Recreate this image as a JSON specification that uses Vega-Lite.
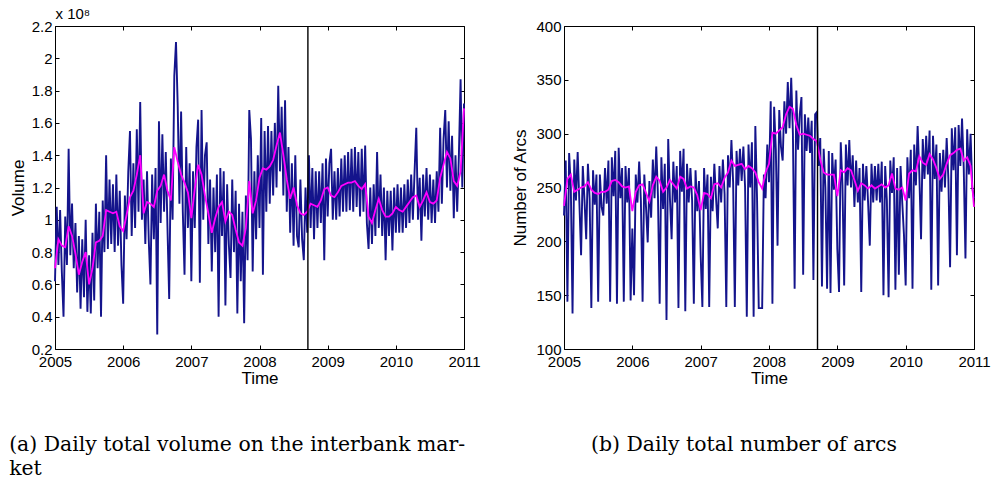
{
"$schema":"https://vega.github.io/schema/vega-lite/v6.json",
"background":"white",
"padding":{"left":8,"top":6,"right":4,"bottom":0},
"config":{
 "view":{"stroke":"black","strokeWidth":1},
 "axis":{"grid":false,"domain":false,"tickColor":"black","tickSize":-4,"tickWidth":1,"labelPadding":7,"labelFlush":false,"labelOverlap":false,"labelFont":"Liberation Sans","labelFontSize":15,"labelColor":"black","titleFont":"Liberation Sans","titleFontSize":17,"titleFontWeight":"normal","titleColor":"black"},
 "title":{"font":"DejaVu Serif","fontSize":20.4,"fontWeight":"normal","color":"black","lineHeight":24}
},
"datasets":{
"daily":[
{"t":2005,"a":0.62,"b":224},{"t":2005.025,"a":1.08,"b":275},{"t":2005.05,"a":0.72,"b":144},{"t":2005.075,"a":1.06,"b":282},{"t":2005.1,"a":0.68,"b":250},{"t":2005.125,"a":0.40,"b":133},{"t":2005.15,"a":1.02,"b":276},{"t":2005.175,"a":0.72,"b":238},{"t":2005.2,"a":1.44,"b":283},{"t":2005.225,"a":0.78,"b":236},
{"t":2005.25,"a":1.10,"b":187},{"t":2005.275,"a":0.70,"b":270},{"t":2005.3,"a":0.98,"b":238},{"t":2005.325,"a":0.55,"b":202},{"t":2005.35,"a":0.90,"b":272},{"t":2005.375,"a":0.45,"b":240},{"t":2005.4,"a":0.88,"b":138},{"t":2005.425,"a":0.52,"b":266},{"t":2005.45,"a":1.00,"b":234},{"t":2005.475,"a":0.43,"b":262},
{"t":2005.5,"a":0.78,"b":144},{"t":2005.525,"a":0.42,"b":262},{"t":2005.55,"a":0.92,"b":232},{"t":2005.575,"a":0.50,"b":224},{"t":2005.6,"a":1.10,"b":268},{"t":2005.625,"a":0.70,"b":235},{"t":2005.65,"a":1.05,"b":275},{"t":2005.675,"a":0.40,"b":144},{"t":2005.7,"a":1.12,"b":278},{"t":2005.725,"a":0.80,"b":242},
{"t":2005.75,"a":1.40,"b":284},{"t":2005.775,"a":0.82,"b":142},{"t":2005.8,"a":1.25,"b":287},{"t":2005.825,"a":0.85,"b":240},{"t":2005.85,"a":1.22,"b":268},{"t":2005.875,"a":0.80,"b":144},{"t":2005.9,"a":1.28,"b":270},{"t":2005.925,"a":0.84,"b":236},{"t":2005.95,"a":1.18,"b":268},{"t":2005.975,"a":0.72,"b":145},
{"t":2006,"a":0.48,"b":212},{"t":2006.025,"a":1.15,"b":150},{"t":2006.05,"a":0.88,"b":262},{"t":2006.075,"a":1.30,"b":236},{"t":2006.1,"a":1.55,"b":274},{"t":2006.125,"a":0.90,"b":238},{"t":2006.15,"a":1.35,"b":144},{"t":2006.175,"a":0.95,"b":262},{"t":2006.2,"a":1.56,"b":232},{"t":2006.225,"a":1.05,"b":199},
{"t":2006.25,"a":1.73,"b":256},{"t":2006.275,"a":1.00,"b":222},{"t":2006.3,"a":1.25,"b":276},{"t":2006.325,"a":0.85,"b":240},{"t":2006.35,"a":1.30,"b":288},{"t":2006.375,"a":0.88,"b":242},{"t":2006.4,"a":0.60,"b":142},{"t":2006.425,"a":1.28,"b":278},{"t":2006.45,"a":0.88,"b":230},{"t":2006.475,"a":1.32,"b":272},
{"t":2006.5,"a":0.29,"b":127},{"t":2006.525,"a":1.61,"b":295},{"t":2006.55,"a":0.98,"b":240},{"t":2006.575,"a":1.53,"b":202},{"t":2006.6,"a":1.05,"b":274},{"t":2006.625,"a":1.42,"b":236},{"t":2006.65,"a":0.95,"b":270},{"t":2006.675,"a":0.51,"b":138},{"t":2006.7,"a":1.38,"b":284},{"t":2006.725,"a":1.00,"b":246},
{"t":2006.75,"a":1.89,"b":286},{"t":2006.775,"a":2.10,"b":135},{"t":2006.8,"a":1.71,"b":272},{"t":2006.825,"a":1.10,"b":236},{"t":2006.85,"a":1.67,"b":268},{"t":2006.875,"a":1.05,"b":238},{"t":2006.9,"a":0.66,"b":142},{"t":2006.925,"a":1.45,"b":266},{"t":2006.95,"a":0.95,"b":228},{"t":2006.975,"a":1.35,"b":256},
{"t":2007,"a":0.62,"b":187},{"t":2007.025,"a":1.30,"b":139},{"t":2007.05,"a":0.95,"b":268},{"t":2007.075,"a":1.45,"b":230},{"t":2007.1,"a":1.62,"b":262},{"t":2007.125,"a":0.61,"b":139},{"t":2007.15,"a":1.68,"b":260},{"t":2007.175,"a":1.00,"b":228},{"t":2007.2,"a":1.40,"b":272},{"t":2007.225,"a":1.48,"b":240},
{"t":2007.25,"a":0.85,"b":212},{"t":2007.275,"a":1.25,"b":270},{"t":2007.3,"a":0.68,"b":236},{"t":2007.325,"a":1.20,"b":276},{"t":2007.35,"a":0.80,"b":244},{"t":2007.375,"a":1.28,"b":139},{"t":2007.4,"a":0.40,"b":280},{"t":2007.425,"a":1.32,"b":250},{"t":2007.45,"a":0.90,"b":294},{"t":2007.475,"a":1.30,"b":255},
{"t":2007.5,"a":0.47,"b":139},{"t":2007.525,"a":1.22,"b":284},{"t":2007.55,"a":0.85,"b":252},{"t":2007.575,"a":0.64,"b":286},{"t":2007.6,"a":1.25,"b":256},{"t":2007.625,"a":0.80,"b":288},{"t":2007.65,"a":1.18,"b":250},{"t":2007.675,"a":0.42,"b":130},{"t":2007.7,"a":1.10,"b":290},{"t":2007.725,"a":0.62,"b":250},
{"t":2007.75,"a":1.05,"b":292},{"t":2007.775,"a":0.36,"b":130},{"t":2007.8,"a":1.15,"b":307},{"t":2007.825,"a":0.75,"b":240},{"t":2007.85,"a":1.68,"b":138},{"t":2007.875,"a":1.50,"b":138},{"t":2007.9,"a":0.68,"b":138},{"t":2007.925,"a":1.30,"b":262},{"t":2007.95,"a":0.88,"b":240},{"t":2007.975,"a":1.40,"b":290},
{"t":2008,"a":0.95,"b":255},{"t":2008.025,"a":1.63,"b":330},{"t":2008.05,"a":0.66,"b":142},{"t":2008.075,"a":1.55,"b":325},{"t":2008.1,"a":1.05,"b":285},{"t":2008.125,"a":1.58,"b":196},{"t":2008.15,"a":1.10,"b":322},{"t":2008.175,"a":1.55,"b":288},{"t":2008.2,"a":1.15,"b":275},{"t":2008.225,"a":1.60,"b":330},
{"t":2008.25,"a":1.20,"b":300},{"t":2008.275,"a":1.83,"b":348},{"t":2008.3,"a":1.30,"b":305},{"t":2008.325,"a":1.70,"b":352},{"t":2008.35,"a":1.15,"b":300},{"t":2008.375,"a":1.74,"b":156},{"t":2008.4,"a":1.05,"b":340},{"t":2008.425,"a":1.45,"b":285},{"t":2008.45,"a":0.92,"b":318},{"t":2008.475,"a":1.35,"b":334},
{"t":2008.5,"a":0.84,"b":169},{"t":2008.525,"a":1.40,"b":318},{"t":2008.55,"a":0.90,"b":284},{"t":2008.575,"a":0.83,"b":315},{"t":2008.6,"a":1.25,"b":282},{"t":2008.625,"a":0.88,"b":312},{"t":2008.65,"a":0.75,"b":164},{"t":2008.675,"a":1.20,"b":318},{"t":2008.7,"a":0.92,"b":320},{"t":2008.725,"a":1.40,"b":270},
{"t":2008.75,"a":0.95,"b":296},{"t":2008.775,"a":1.32,"b":158},{"t":2008.8,"a":0.88,"b":286},{"t":2008.825,"a":1.30,"b":250},{"t":2008.85,"a":0.95,"b":156},{"t":2008.875,"a":1.30,"b":284},{"t":2008.9,"a":0.98,"b":152},{"t":2008.925,"a":1.35,"b":282},{"t":2008.95,"a":0.75,"b":248},{"t":2008.975,"a":1.38,"b":276},
{"t":2009,"a":1.02,"b":193},{"t":2009.025,"a":1.35,"b":153},{"t":2009.05,"a":1.44,"b":292},{"t":2009.075,"a":1.00,"b":252},{"t":2009.1,"a":1.30,"b":159},{"t":2009.125,"a":1.00,"b":290},{"t":2009.15,"a":1.32,"b":252},{"t":2009.175,"a":1.02,"b":294},{"t":2009.2,"a":1.38,"b":250},{"t":2009.225,"a":1.05,"b":280},
{"t":2009.25,"a":1.40,"b":232},{"t":2009.275,"a":1.05,"b":275},{"t":2009.3,"a":1.42,"b":236},{"t":2009.325,"a":1.06,"b":268},{"t":2009.35,"a":1.44,"b":153},{"t":2009.375,"a":1.05,"b":272},{"t":2009.4,"a":1.45,"b":238},{"t":2009.425,"a":1.08,"b":270},{"t":2009.45,"a":1.42,"b":236},{"t":2009.475,"a":1.02,"b":196},
{"t":2009.5,"a":1.44,"b":272},{"t":2009.525,"a":1.05,"b":236},{"t":2009.55,"a":1.46,"b":270},{"t":2009.575,"a":0.98,"b":238},{"t":2009.6,"a":0.82,"b":272},{"t":2009.625,"a":1.20,"b":236},{"t":2009.65,"a":0.85,"b":274},{"t":2009.675,"a":1.22,"b":150},{"t":2009.7,"a":0.90,"b":270},{"t":2009.725,"a":1.42,"b":238},
{"t":2009.75,"a":0.95,"b":148},{"t":2009.775,"a":1.28,"b":275},{"t":2009.8,"a":0.90,"b":245},{"t":2009.825,"a":1.20,"b":278},{"t":2009.85,"a":0.75,"b":155},{"t":2009.875,"a":1.18,"b":268},{"t":2009.9,"a":0.90,"b":169},{"t":2009.925,"a":1.18,"b":270},{"t":2009.95,"a":0.81,"b":236},{"t":2009.975,"a":1.20,"b":206},
{"t":2010,"a":0.92,"b":159},{"t":2010.025,"a":1.22,"b":278},{"t":2010.05,"a":0.92,"b":240},{"t":2010.075,"a":1.20,"b":285},{"t":2010.1,"a":0.92,"b":156},{"t":2010.125,"a":1.22,"b":290},{"t":2010.15,"a":0.95,"b":252},{"t":2010.175,"a":1.25,"b":307},{"t":2010.2,"a":0.98,"b":262},{"t":2010.225,"a":1.28,"b":202},
{"t":2010.25,"a":1.00,"b":295},{"t":2010.275,"a":1.30,"b":258},{"t":2010.3,"a":1.57,"b":298},{"t":2010.325,"a":1.00,"b":262},{"t":2010.35,"a":1.26,"b":303},{"t":2010.375,"a":0.87,"b":155},{"t":2010.4,"a":1.28,"b":298},{"t":2010.425,"a":1.02,"b":258},{"t":2010.45,"a":1.32,"b":290},{"t":2010.475,"a":1.00,"b":159},
{"t":2010.5,"a":1.28,"b":282},{"t":2010.525,"a":0.98,"b":246},{"t":2010.55,"a":1.25,"b":285},{"t":2010.575,"a":0.98,"b":250},{"t":2010.6,"a":1.30,"b":296},{"t":2010.625,"a":1.05,"b":258},{"t":2010.65,"a":1.57,"b":176},{"t":2010.675,"a":1.10,"b":305},{"t":2010.7,"a":1.50,"b":266},{"t":2010.725,"a":1.68,"b":306},
{"t":2010.75,"a":1.20,"b":187},{"t":2010.775,"a":1.61,"b":308},{"t":2010.8,"a":1.18,"b":270},{"t":2010.825,"a":1.52,"b":314},{"t":2010.85,"a":1.01,"b":268},{"t":2010.875,"a":1.40,"b":184},{"t":2010.9,"a":1.05,"b":304},{"t":2010.925,"a":1.40,"b":262},{"t":2010.95,"a":1.87,"b":300},{"t":2010.975,"a":1.20,"b":250},
{"t":2011,"a":1.72,"b":240}
],
"ma":[
{"t":2005,"a":0.70,"b":233},{"t":2005.05,"a":0.88,"b":258},{"t":2005.1,"a":0.84,"b":262},{"t":2005.15,"a":0.83,"b":246},{"t":2005.2,"a":0.96,"b":248},{"t":2005.25,"a":0.90,"b":250},{"t":2005.3,"a":0.79,"b":251},{"t":2005.35,"a":0.66,"b":255},{"t":2005.4,"a":0.74,"b":248},{"t":2005.45,"a":0.80,"b":245},
{"t":2005.5,"a":0.60,"b":244},{"t":2005.55,"a":0.70,"b":246},{"t":2005.6,"a":0.86,"b":246},{"t":2005.65,"a":0.87,"b":248},{"t":2005.7,"a":0.90,"b":256},{"t":2005.75,"a":1.06,"b":257},{"t":2005.8,"a":1.05,"b":255},{"t":2005.85,"a":1.04,"b":251},{"t":2005.9,"a":1.05,"b":250},{"t":2005.95,"a":0.96,"b":251},
{"t":2006,"a":0.93,"b":228},{"t":2006.05,"a":1.03,"b":246},{"t":2006.1,"a":1.14,"b":252},{"t":2006.15,"a":1.18,"b":253},{"t":2006.2,"a":1.28,"b":245},{"t":2006.25,"a":1.40,"b":237},{"t":2006.3,"a":1.04,"b":252},{"t":2006.35,"a":1.11,"b":260},{"t":2006.4,"a":1.10,"b":256},{"t":2006.45,"a":1.08,"b":246},
{"t":2006.5,"a":1.18,"b":250},{"t":2006.55,"a":1.21,"b":257},{"t":2006.6,"a":1.28,"b":253},{"t":2006.65,"a":1.18,"b":249},{"t":2006.7,"a":1.12,"b":260},{"t":2006.75,"a":1.45,"b":258},{"t":2006.8,"a":1.36,"b":249},{"t":2006.85,"a":1.28,"b":251},{"t":2006.9,"a":1.23,"b":250},{"t":2006.95,"a":1.17,"b":243},
{"t":2007,"a":1.01,"b":229},{"t":2007.05,"a":1.19,"b":245},{"t":2007.1,"a":1.34,"b":244},{"t":2007.15,"a":1.28,"b":240},{"t":2007.2,"a":1.15,"b":253},{"t":2007.25,"a":1.04,"b":254},{"t":2007.3,"a":0.92,"b":250},{"t":2007.35,"a":1.01,"b":259},{"t":2007.4,"a":1.08,"b":264},{"t":2007.45,"a":1.11,"b":275},
{"t":2007.5,"a":0.99,"b":270},{"t":2007.55,"a":1.05,"b":271},{"t":2007.6,"a":1.03,"b":272},{"t":2007.65,"a":0.94,"b":267},{"t":2007.7,"a":0.86,"b":270},{"t":2007.75,"a":0.84,"b":268},{"t":2007.8,"a":0.95,"b":264},{"t":2007.85,"a":1.24,"b":255},{"t":2007.9,"a":1.04,"b":249},{"t":2007.95,"a":1.12,"b":264},
{"t":2008,"a":1.26,"b":272},{"t":2008.05,"a":1.32,"b":301},{"t":2008.1,"a":1.31,"b":300},{"t":2008.15,"a":1.33,"b":303},{"t":2008.2,"a":1.37,"b":306},{"t":2008.25,"a":1.46,"b":318},{"t":2008.3,"a":1.54,"b":325},{"t":2008.35,"a":1.40,"b":323},{"t":2008.4,"a":1.25,"b":308},{"t":2008.45,"a":1.13,"b":299},
{"t":2008.5,"a":1.20,"b":300},{"t":2008.55,"a":1.09,"b":299},{"t":2008.6,"a":1.04,"b":298},{"t":2008.65,"a":1.03,"b":295},{"t":2008.7,"a":1.05,"b":293},{"t":2008.75,"a":1.10,"b":276},{"t":2008.8,"a":1.09,"b":264},{"t":2008.85,"a":1.08,"b":262},{"t":2008.9,"a":1.12,"b":262},{"t":2008.95,"a":1.19,"b":262},
{"t":2009,"a":1.20,"b":242},{"t":2009.05,"a":1.15,"b":266},{"t":2009.1,"a":1.14,"b":264},{"t":2009.15,"a":1.17,"b":268},{"t":2009.2,"a":1.21,"b":266},{"t":2009.25,"a":1.22,"b":257},{"t":2009.3,"a":1.23,"b":247},{"t":2009.35,"a":1.23,"b":254},{"t":2009.4,"a":1.24,"b":252},{"t":2009.45,"a":1.21,"b":249},
{"t":2009.5,"a":1.19,"b":252},{"t":2009.55,"a":1.22,"b":249},{"t":2009.6,"a":1.02,"b":251},{"t":2009.65,"a":0.98,"b":253},{"t":2009.7,"a":1.06,"b":250},{"t":2009.75,"a":1.13,"b":252},{"t":2009.8,"a":1.06,"b":263},{"t":2009.85,"a":1.02,"b":249},{"t":2009.9,"a":1.02,"b":248},{"t":2009.95,"a":1.04,"b":250},
{"t":2010,"a":1.08,"b":238},{"t":2010.05,"a":1.06,"b":263},{"t":2010.1,"a":1.05,"b":266},{"t":2010.15,"a":1.08,"b":265},{"t":2010.2,"a":1.11,"b":279},{"t":2010.25,"a":1.14,"b":273},{"t":2010.3,"a":1.15,"b":271},{"t":2010.35,"a":1.08,"b":281},{"t":2010.4,"a":1.12,"b":276},{"t":2010.45,"a":1.17,"b":268},
{"t":2010.5,"a":1.11,"b":258},{"t":2010.55,"a":1.10,"b":262},{"t":2010.6,"a":1.12,"b":272},{"t":2010.65,"a":1.26,"b":280},{"t":2010.7,"a":1.34,"b":282},{"t":2010.75,"a":1.42,"b":285},{"t":2010.8,"a":1.38,"b":286},{"t":2010.85,"a":1.24,"b":275},{"t":2010.9,"a":1.21,"b":278},{"t":2010.95,"a":1.30,"b":270},
{"t":2011,"a":1.69,"b":232}
],
"event":[{"t":2008.71}]
},
"hconcat":[
{
 "width":409,"height":323,
 "title":{"text":["(a)  Daily total volume on the interbank mar-","ket"],"orient":"bottom","anchor":"start","offset":49},
 "layer":[
  {"data":{"name":"daily"},"mark":{"type":"line","color":"#14148c","strokeWidth":1.9},
   "encoding":{
    "x":{"field":"t","type":"quantitative","scale":{"domain":[2005,2011],"nice":false,"zero":false},"axis":{"orient":"bottom","values":[2005,2006,2007,2008,2009,2010,2011],"format":"d","title":"Time","titlePadding":1,"labelPadding":9}},
    "y":{"field":"a","type":"quantitative","scale":{"domain":[0.2,2.2],"nice":false,"zero":false},"axis":{"orient":"left","values":[0.2,0.4,0.6,0.8,1,1.2,1.4,1.6,1.8,2,2.2],"format":"~g","title":"Volume","titlePadding":4}}}},
  {"data":{"name":"ma"},"mark":{"type":"line","color":"#ff00ff","strokeWidth":1.8},
   "encoding":{
    "x":{"field":"t","type":"quantitative","axis":{"orient":"top","values":[2005,2006,2007,2008,2009,2010,2011],"labels":false,"title":"x 10⁸","titleAnchor":"start","titleFontSize":15,"titlePadding":4}},
    "y":{"field":"a","type":"quantitative","axis":{"orient":"right","values":[0.2,0.4,0.6,0.8,1,1.2,1.4,1.6,1.8,2,2.2],"labels":false,"title":null}}}},
  {"data":{"name":"event"},"mark":{"type":"rule","color":"black","strokeWidth":1.4},
   "encoding":{"x":{"field":"t","type":"quantitative","axis":null}}}
 ],
 "resolve":{"axis":{"x":"independent","y":"independent"}}
},
{
 "width":410,"height":323,
 "title":{"text":"(b) Daily total number of arcs","orient":"bottom","anchor":"middle","offset":49,"dx":-25},
 "layer":[
  {"data":{"name":"daily"},"mark":{"type":"line","color":"#14148c","strokeWidth":1.9},
   "encoding":{
    "x":{"field":"t","type":"quantitative","scale":{"domain":[2005,2011],"nice":false,"zero":false},"axis":{"orient":"bottom","values":[2005,2006,2007,2008,2009,2010,2011],"format":"d","title":"Time","titlePadding":1,"labelPadding":9}},
    "y":{"field":"b","type":"quantitative","scale":{"domain":[100,400],"nice":false,"zero":false},"axis":{"orient":"left","values":[100,150,200,250,300,350,400],"title":"Number of Arcs","titlePadding":6}}}},
  {"data":{"name":"ma"},"mark":{"type":"line","color":"#ff00ff","strokeWidth":1.8},
   "encoding":{
    "x":{"field":"t","type":"quantitative","axis":{"orient":"top","values":[2005,2006,2007,2008,2009,2010,2011],"labels":false,"title":null}},
    "y":{"field":"b","type":"quantitative","axis":{"orient":"right","values":[100,150,200,250,300,350,400],"labels":false,"title":null}}}},
  {"data":{"name":"event"},"mark":{"type":"rule","color":"black","strokeWidth":1.4},
   "encoding":{"x":{"field":"t","type":"quantitative","axis":null}}}
 ],
 "resolve":{"axis":{"x":"independent","y":"independent"}}
}
],
"spacing":100,
"bounds":"flush"
}
